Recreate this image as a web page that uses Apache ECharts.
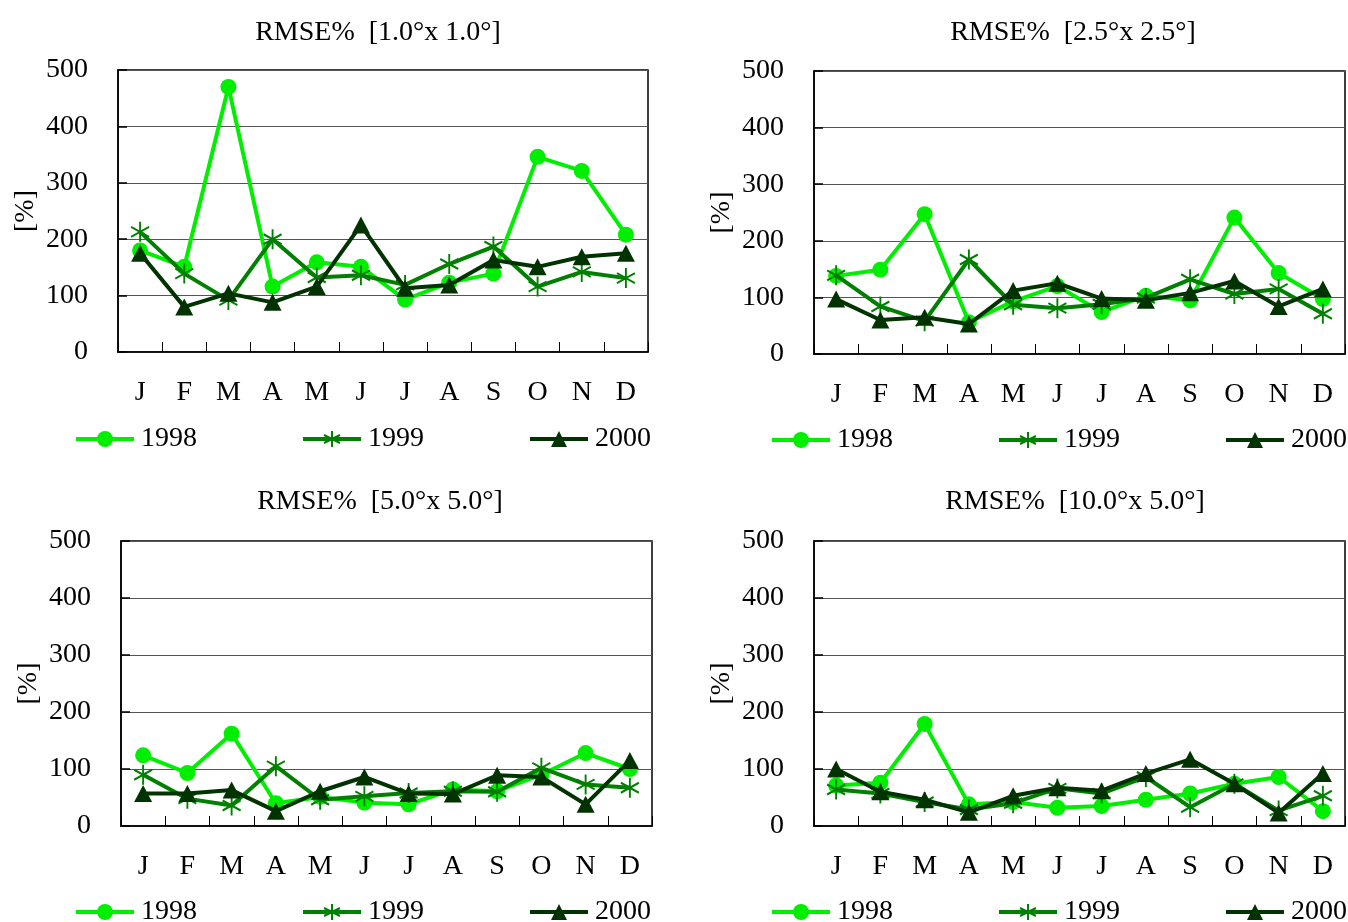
<!DOCTYPE html>
<html>
<head>
<meta charset="utf-8">
<script src="https://cdn.jsdelivr.net/npm/echarts@6/dist/echarts.min.js"></script>
<style>
html,body{margin:0;padding:0;background:#fff;}
#main{width:1348px;height:922px;}
</style>
</head>
<body>
<div id="main"></div>
<script>
// ---- data ----
const months = ['J','F','M','A','M','J','J','A','S','O','N','D'];
const years = ['1998','1999','2000'];
const yTicks = [0, 100, 200, 300, 400, 500];
const panelTitles = ['RMSE%  [1.0°x 1.0°]', 'RMSE%  [2.5°x 2.5°]', 'RMSE%  [5.0°x 5.0°]', 'RMSE%  [10.0°x 5.0°]'];

const r1x1_1998 = [180, 151, 470, 116, 159, 151, 93, 123, 139, 346, 321, 208];
const r1x1_1999 = [213, 139, 92, 200, 132, 136, 119, 156, 187, 116, 142, 131];
const r1x1_2000 = [175, 80, 104, 88, 116, 225, 113, 119, 163, 151, 169, 175];

const r25_1998 = [138, 149, 247, 56, 93, 120, 74, 103, 95, 241, 143, 97];
const r25_1999 = [139, 84, 58, 167, 87, 81, 88, 99, 132, 106, 115, 71];
const r25_2000 = [97, 60, 65, 53, 112, 125, 98, 95, 108, 129, 84, 115];

const r5_1998 = [124, 93, 162, 40, 51, 41, 38, 64, 61, 90, 128, 100];
const r5_1999 = [90, 48, 36, 105, 46, 52, 58, 61, 60, 102, 73, 67];
const r5_2000 = [57, 57, 63, 26, 61, 86, 57, 56, 89, 86, 38, 115];

const r10_1998 = [71, 76, 179, 38, 42, 32, 35, 46, 57, 74, 86, 26];
const r10_1999 = [64, 57, 42, 29, 40, 66, 57, 86, 33, 74, 27, 53];
const r10_2000 = [100, 60, 46, 24, 53, 67, 62, 92, 117, 74, 23, 92];

const panelData = [
  [r1x1_1998, r1x1_1999, r1x1_2000],
  [r25_1998, r25_1999, r25_2000],
  [r5_1998, r5_1999, r5_2000],
  [r10_1998, r10_1999, r10_2000]
];

// ---- styles / layout ----
const FONT = 'Liberation Serif';
const colors = ['#00ee00', '#008000', '#003300'];
const grids = [
  {left: 118, top: 70, width: 530, height: 282},
  {left: 814, top: 71, width: 531, height: 283},
  {left: 121, top: 541, width: 531, height: 285},
  {left: 814, top: 541, width: 531, height: 285}
];
const titlePos = [{x: 373, y: 14}, {x: 1068, y: 14}, {x: 375, y: 483}, {x: 1070, y: 483}];
const legendPos = [{x: 74, y: 425}, {x: 770, y: 426}, {x: 74, y: 898}, {x: 770, y: 898}];

const starPath = 'path://M0,-1L0,1M-0.866,-0.5L0.866,0.5M-0.866,0.5L0.866,-0.5';

const option = {
  animation: false,
  backgroundColor: '#fff',
  textStyle: {fontFamily: FONT},
  title: [], legend: [], grid: [], xAxis: [], yAxis: [], series: []
};

for (let p = 0; p < 4; p++) {
  option.grid.push(Object.assign({show: true, borderColor: '#000', borderWidth: 1.5, backgroundColor: 'transparent'}, grids[p]));
  option.title.push({
    text: panelTitles[p], left: titlePos[p].x, top: titlePos[p].y, textAlign: 'center',
    textStyle: {fontFamily: FONT, fontSize: 28, fontWeight: 'normal', color: '#000'}
  });
  option.xAxis.push({
    type: 'category', gridIndex: p, data: months, boundaryGap: true,
    axisLine: {lineStyle: {color: '#000', width: 1.5}},
    axisTick: {show: true, inside: true, length: 10, alignWithLabel: false, lineStyle: {color: '#000', width: 1}},
    axisLabel: {fontFamily: FONT, fontSize: 28, color: '#000', margin: 27, interval: 0},
    splitLine: {show: false}
  });
  option.yAxis.push({
    type: 'value', gridIndex: p, min: yTicks[0], max: yTicks[yTicks.length - 1], interval: 100,
    name: '[%]', nameLocation: 'middle', nameRotate: 90, nameGap: 78,
    nameTextStyle: {fontFamily: FONT, fontSize: 28, color: '#000'},
    axisLine: {show: true, lineStyle: {color: '#000', width: 1.5}},
    axisTick: {show: true, inside: true, length: 9, lineStyle: {color: '#000', width: 1.5}},
    axisLabel: {fontFamily: FONT, fontSize: 28, color: '#000', margin: 30},
    splitLine: {show: true, lineStyle: {color: '#555', width: 1.2}}
  });
  option.legend.push({
    left: legendPos[p].x, top: legendPos[p].y, width: 640, orient: 'horizontal', padding: 0,
    itemWidth: 58, itemHeight: 20, itemGap: 104,
    lineStyle: {width: 4},
    textStyle: {fontFamily: FONT, fontSize: 28, color: '#000', padding: [0, 0, 0, 2]},
    data: years.map(y => ({name: y}))
  });
  for (let s = 0; s < 3; s++) {
    const ser = {
      type: 'line', name: years[s], xAxisIndex: p, yAxisIndex: p,
      data: panelData[p][s],
      lineStyle: {color: colors[s], width: 4},
      itemStyle: {color: colors[s]},
      z: 2 + s
    };
    if (s === 0) { ser.symbol = 'circle'; ser.symbolSize = 16; }
    if (s === 1) {
      ser.symbol = starPath; ser.symbolSize = [18, 20];
      ser.itemStyle = {color: 'rgba(0,0,0,0)', borderColor: colors[s], borderWidth: 2};
    }
    if (s === 2) { ser.symbol = 'triangle'; ser.symbolSize = [18, 17]; }
    option.series.push(ser);
  }
}

const chart = echarts.init(document.getElementById('main'), null, {renderer: 'canvas'});
chart.setOption(option);
</script>
</body>
</html>
